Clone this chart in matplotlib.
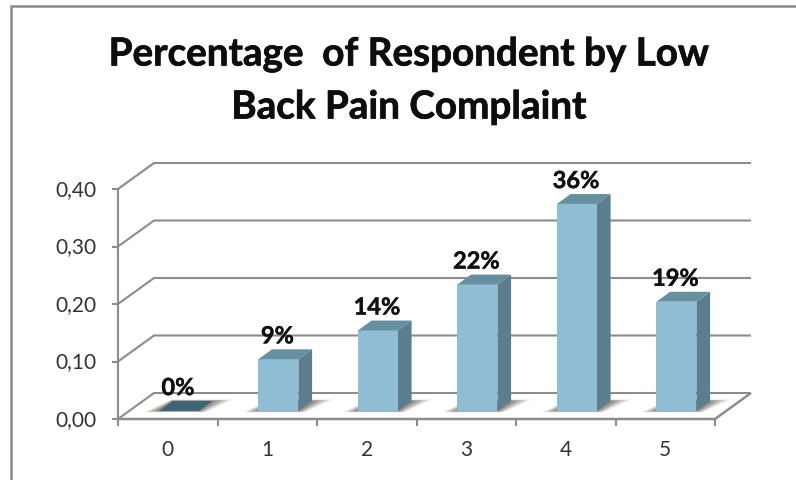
import matplotlib
matplotlib.use("Agg")
import matplotlib.pyplot as plt
import matplotlib.patheffects as pe
from matplotlib.patches import Polygon

categories = ["0", "1", "2", "3", "4", "5"]
values = [0.00, 0.09, 0.14, 0.22, 0.36, 0.19]
labels = ["0%", "9%", "14%", "22%", "36%", "19%"]
y_ticks = [0.00, 0.10, 0.20, 0.30, 0.40]
y_tick_labels = ["0,00", "0,10", "0,20", "0,30", "0,40"]
title_lines = ["Percentage  of Respondent by Low", "Back Pain Complaint"]

W, H = 796, 481
GRID = "#8c8c8c"
FRONT = "#8fbdd3"
TOP = "#66909f"
SIDE = "#5b7d8e"
FLAT = "#3f6475"

plt.rcParams["font.family"] = ["Lato", "DejaVu Sans"]

fig = plt.figure(figsize=(W / 100, H / 100), dpi=100)

# front plane of the fake 3D box: x 118-715 px, y 420-190 px
ax = fig.add_axes([118 / W, 1 - 420 / H, (715 - 118) / W, (420 - 190) / H])
ax.set_xlim(-0.5, 5.5)
ax.set_ylim(0, 0.4)
ax.axis("off")

px_x = 6 / (715 - 118)
px_y = 0.4 / (420 - 190)
DEPTH_X = 36 * px_x
DEPTH_Y = 26 * px_y


def oblique(x, y, depth):
    # depth 0 is the front edge of the floor, depth 1 the back wall
    return (x + depth * DEPTH_X, y + depth * DEPTH_Y)


def line(points, lw=1.5, color=GRID, z=1):
    xs, ys = zip(*points)
    ax.plot(xs, ys, color=color, lw=lw, clip_on=False, zorder=z, solid_capstyle="butt")


left, right = -0.5, 5.5

# walls and gridlines
for tick, text in zip(y_ticks, y_tick_labels):
    line([oblique(left, tick, 0), oblique(left, tick, 1), oblique(right, tick, 1)])
    line([(left - 6 * px_x, tick), (left, tick)])
    ax.text(left - 22 * px_x, tick, text, ha="right", va="center", fontsize=15,
            color="#333333", clip_on=False)
line([oblique(left, 0, 0), oblique(left, 0.4, 0)])

# floor
line([oblique(left, 0, 0), oblique(right, 0, 0), oblique(right, 0, 1)], lw=1.8)
for i in range(7):
    tx = left + i
    line([(tx, 0), (tx, -7 * px_y)])

# bars, sitting part way into the floor
BAR_W = 40 * px_x
D0, D1 = 0.31, 0.69
thick = [pe.withStroke(linewidth=0.3, foreground="#111111")]
for i, (cat, val, lab) in enumerate(zip(categories, values, labels)):
    x0, x1 = i - BAR_W / 2, i + BAR_W / 2

    # soft shadow on the floor, stacked polygons widening outwards
    for k, a in zip([1.0, 0.75, 0.5, 0.25], [0.16, 0.24, 0.32, 0.40]):
        shadow = Polygon([oblique(x0 - 13 * px_x * k, 0, D0 - 0.05 * k),
                          oblique(x1 + 8 * px_x * k, 0, D0 - 0.05 * k),
                          oblique(x1 + 18 * px_x * k, 0, D1 + 0.06 * k),
                          oblique(x0 - 3 * px_x * k, 0, D1 + 0.06 * k)],
                         closed=True, fc="#6f675f", ec="none", alpha=a, zorder=2, clip_on=False)
        ax.add_patch(shadow)

    top_col = FLAT if val == 0 else TOP
    front = [oblique(x0, 0, D0), oblique(x1, 0, D0), oblique(x1, val, D0), oblique(x0, val, D0)]
    side = [oblique(x1, 0, D0), oblique(x1, 0, D1), oblique(x1, val, D1), oblique(x1, val, D0)]
    top = [oblique(x0, val, D0), oblique(x1, val, D0), oblique(x1, val, D1), oblique(x0, val, D1)]
    ax.add_patch(Polygon(side, closed=True, fc=SIDE, ec="none", zorder=3, clip_on=False))
    ax.add_patch(Polygon(front, closed=True, fc=FRONT, ec="none", zorder=3, clip_on=False))
    ax.add_patch(Polygon(top, closed=True, fc=top_col, ec="none", zorder=3, clip_on=False))

    # value label over the front face of the bar
    lx, ly = oblique(i, val, D1)
    ax.text(i + D0 * DEPTH_X - 1 * px_x, ly + 2 * px_y, lab, ha="center", va="bottom",
            fontsize=17, fontweight="bold", color="#111111", clip_on=False, zorder=5,
            path_effects=thick)
    ax.text(i, -30 * px_y, cat, ha="center", va="center", fontsize=15,
            color="#333333", clip_on=False)

# outer chart border, cut off by the edge of the image on the right
frame = fig.add_axes([0, 0, 1, 1], facecolor="none")
frame.set_xlim(0, W)
frame.set_ylim(H, 0)
frame.axis("off")
frame.plot([11, 11, W], [H, 7, 7], color="#8a8a8a", lw=1.8, solid_joinstyle="miter")

# two title lines placed separately, they sit further apart than normal leading
title_fx = [pe.withStroke(linewidth=0.5, foreground="#0d0d0d")]
fig.text(409 / W, 1 - 55 / H, title_lines[0], ha="center", va="center", fontsize=27.8,
         fontweight="bold", color="#0d0d0d", path_effects=title_fx)
fig.text(409 / W, 1 - 108 / H, title_lines[1], ha="center", va="center", fontsize=27.8,
         fontweight="bold", color="#0d0d0d", path_effects=title_fx)

fig.savefig("out.png", dpi=100)
